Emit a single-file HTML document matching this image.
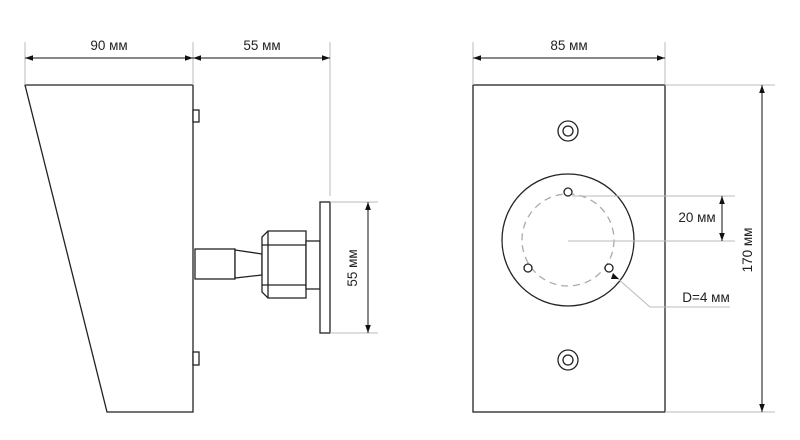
<!DOCTYPE html><html><head><style>body{margin:0;background:#fff}svg{display:block}text{font-family:"Liberation Sans",sans-serif;font-size:13.5px;fill:#222}</style></head><body>
<svg width="800" height="440" viewBox="0 0 800 440" xmlns="http://www.w3.org/2000/svg">
<defs><marker id="a" viewBox="0 0 10 10" refX="10" refY="5" markerWidth="8" markerHeight="8" orient="auto-start-reverse"><path d="M0,1.5L10,5L0,8.5z" fill="#111"/></marker></defs>
<g stroke="#222" stroke-width="1.3" fill="#fff">
<polygon points="25,85 193,85 193,412 107,412"/>
<rect x="193" y="110" width="6" height="12"/><rect x="193" y="352" width="6" height="13"/>
<rect x="195" y="249" width="40" height="30"/>
<polygon points="235,250 262,254 262,275 235,278"/>
<polygon points="268,231 306,231 306,298 268,298 262,292 262,237"/>
<line x1="262" y1="245" x2="306" y2="245"/><line x1="262" y1="285" x2="306" y2="285"/><line x1="268" y1="231" x2="268" y2="298"/>
<rect x="306" y="241" width="14" height="48"/>
<rect x="320" y="202" width="10" height="131"/>
<rect x="473" y="85" width="192" height="327"/>
<circle cx="568" cy="131" r="10"/><circle cx="568" cy="131" r="5"/>
<circle cx="568" cy="360" r="10"/><circle cx="568" cy="360" r="5"/>
<circle cx="568" cy="240" r="66"/>
</g>
<circle cx="568" cy="240" r="46" fill="none" stroke="#aaa" stroke-width="1.3" stroke-dasharray="7,5"/>
<g stroke="#bbb" stroke-width="1" fill="none">
<line x1="25" y1="42" x2="25" y2="85"/><line x1="193" y1="42" x2="193" y2="85"/><line x1="330" y1="42" x2="330" y2="196"/>
<line x1="473" y1="42" x2="473" y2="85"/><line x1="665" y1="42" x2="665" y2="85"/>
<line x1="665" y1="85" x2="775" y2="85"/><line x1="665" y1="412" x2="775" y2="412"/>
<line x1="330" y1="202" x2="378" y2="202"/><line x1="330" y1="333" x2="378" y2="333"/>
<line x1="572" y1="196" x2="735" y2="196"/><line x1="568" y1="241" x2="735" y2="241"/>
<polyline points="617,278 650,307 730,307"/>
</g>
<g stroke="#222" stroke-width="1.3" fill="#fff">
<circle cx="568" cy="192" r="4"/><circle cx="528" cy="268" r="4"/><circle cx="609" cy="268" r="4"/>
</g>
<g stroke="#111" stroke-width="1" fill="none">
<line x1="25" y1="58" x2="193" y2="58" marker-start="url(#a)" marker-end="url(#a)"/>
<line x1="193" y1="58" x2="330" y2="58" marker-start="url(#a)" marker-end="url(#a)"/>
<line x1="473" y1="58" x2="665" y2="58" marker-start="url(#a)" marker-end="url(#a)"/>
<line x1="762" y1="85" x2="762" y2="412" marker-start="url(#a)" marker-end="url(#a)"/>
<line x1="368" y1="202" x2="368" y2="333" marker-start="url(#a)" marker-end="url(#a)"/>
<line x1="722" y1="196" x2="722" y2="241" marker-start="url(#a)" marker-end="url(#a)"/>
</g>
<path d="M613,273L619,279L611,279z" fill="#111"/>
<text x="109" y="50" text-anchor="middle">90 мм</text>
<text x="262" y="50" text-anchor="middle">55 мм</text>
<text x="569" y="50" text-anchor="middle">85 мм</text>
<text x="697" y="222" text-anchor="middle">20 мм</text>
<text x="706" y="302" text-anchor="middle">D=4 мм</text>
<text transform="translate(357,268) rotate(-90)" text-anchor="middle">55 мм</text>
<text transform="translate(752,250) rotate(-90)" text-anchor="middle">170 мм</text>
</svg></body></html>
